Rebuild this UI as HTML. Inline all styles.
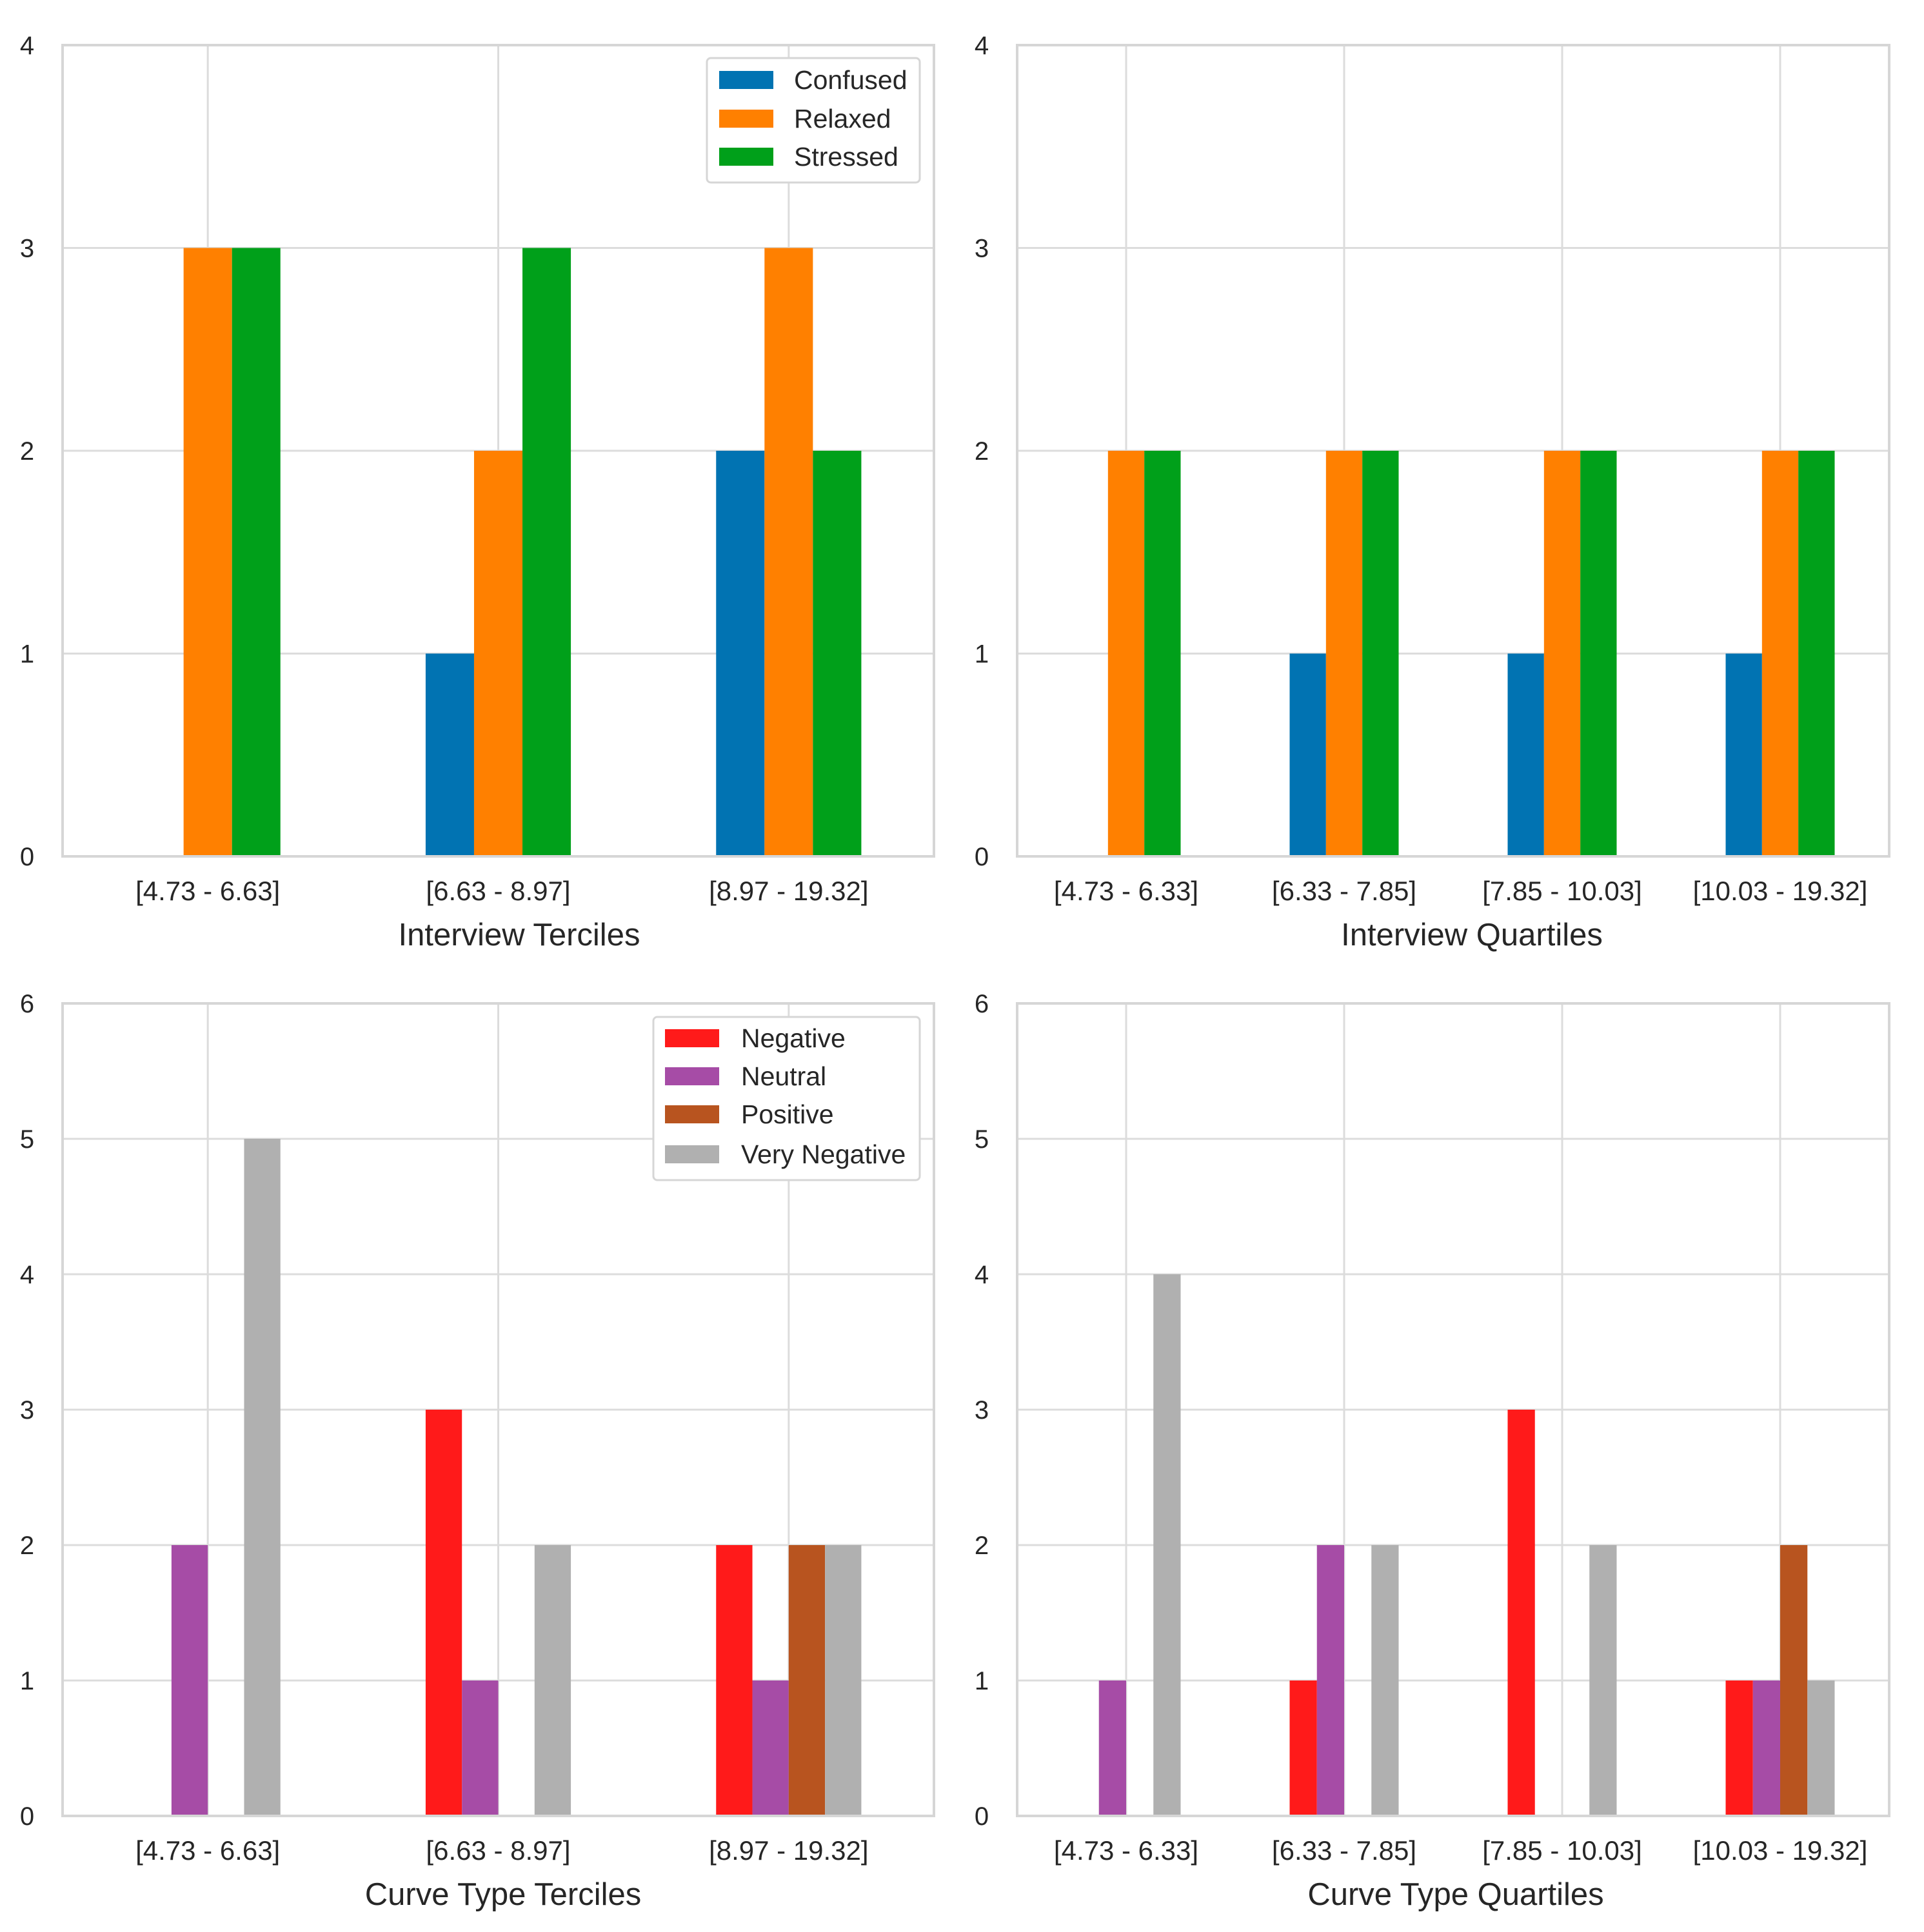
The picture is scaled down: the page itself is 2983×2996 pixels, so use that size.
<!DOCTYPE html>
<html><head><meta charset="utf-8"><style>
body{margin:0;background:#fff}
svg{display:block}
text{font-family:"Liberation Sans",sans-serif;fill:#262626}
</style></head><body>
<svg id="c" width="2983" height="2996" xmlns="http://www.w3.org/2000/svg"></svg>
<script>
const tercileCats = ["[4.73 - 6.63]","[6.63 - 8.97]","[8.97 - 19.32]"];
const quartileCats = ["[4.73 - 6.33]","[6.33 - 7.85]","[7.85 - 10.03]","[10.03 - 19.32]"];
const moodSeries = ["Confused","Relaxed","Stressed"];
const moodColors = ["#0173b2","#ff8000","#00a01a"];
const curveSeries = ["Negative","Neutral","Positive","Very Negative"];
const curveColors = ["#ff1a1a","#a64ca6","#b8541f","#b0b0b0"];
const interviewTercileValues = [[0,1,2],[3,2,3],[3,3,2]];
const interviewQuartileValues = [[0,1,1,1],[2,2,2,2],[2,2,2,2]];
const curveTercileValues = [[0,3,2],[2,1,1],[0,0,2],[5,2,2]];
const curveQuartileValues = [[0,1,3,1],[1,2,0,1],[0,0,0,2],[4,2,2,1]];
const yTicks4 = [0,1,2,3,4];
const yTicks6 = [0,1,2,3,4,5,6];

const svg = document.getElementById('c');
const NS = "http://www.w3.org/2000/svg";
function mk(tag, attrs, parent){
  const e = document.createElementNS(NS, tag);
  for (const k in attrs) e.setAttribute(k, attrs[k]);
  (parent||svg).appendChild(e);
  return e;
}
function panel(name, box, cats, series, colors, values, yTicks, xlabel, legend, labelY){
  const g = mk('g', {});
  
  
  const yMax = yTicks[yTicks.length-1];
  const sx = i => box.x0 + (i+0.5)*(box.x1-box.x0)/cats.length;
  const sy = v => box.y1 - v/yMax*(box.y1-box.y0);
  const step = (box.x1-box.x0)/cats.length;
  yTicks.forEach(t => {
    const l = mk('line', {x1:box.x0,x2:box.x1,y1:sy(t),y2:sy(t),stroke:'#dcdcdc','stroke-width':3}, g);
    
    
    const tx = mk('text', {x:42,y:sy(t)+14,'font-size':40,'text-anchor':'middle'}, g);
    tx.textContent = t;
    if (box.x0 > 1000) tx.setAttribute('x', box.x0-55);
    
    
  });
  cats.forEach((c,i) => {
    const l = mk('line', {x1:sx(i),x2:sx(i),y1:box.y0,y2:box.y1,stroke:'#dcdcdc','stroke-width':3}, g);
    
    
    const tx = mk('text', {x:sx(i),y:box.y1+68,'font-size':42,'text-anchor':'middle'}, g);
    tx.textContent = c;
    
    
  });
  const n = series.length;
  const bw = step*0.5/n;
  series.forEach((s,k) => {
    values[k].forEach((v,i) => {
      if (v <= 0) return;
      const x = sx(i) - step*0.25 + k*bw;
      const r = mk('rect', {x:x,y:sy(v),width:bw,height:sy(0)-sy(v),fill:colors[k]}, g);
      
      
    });
  });
  const fr = mk('rect', {x:box.x0,y:box.y0,width:box.x1-box.x0,height:box.y1-box.y0,fill:'none',stroke:'#d6d6d6','stroke-width':4}, g);
  
  
  const xl = mk('text', {x:labelY.x,y:box.y1+138,'font-size':49,'text-anchor':'middle'}, g);
  xl.textContent = xlabel;
  
  
  if (legend){
    const lg = mk('g', {}, g);
    
    
    mk('rect', {x:legend.x0,y:legend.y0,width:legend.x1-legend.x0,height:legend.y1-legend.y0,fill:'#fff',stroke:'#d6d6d6','stroke-width':3,rx:6}, lg);
    series.forEach((s,k) => {
      const y = legend.rows[k];
      const p = mk('rect', {x:legend.px,y:y-14,width:84,height:28,fill:colors[k]}, lg);
      
      
      const t = mk('text', {x:legend.tx,y:y+14,'font-size':41}, lg);
      t.textContent = s;
      
      
    });
  }
}
panel('interview-terciles-chart', {x0:97,x1:1448,y0:70,y1:1328}, tercileCats, moodSeries, moodColors, interviewTercileValues, yTicks4, 'Interview Terciles',
  {x0:1096,x1:1426,y0:90,y1:283,px:1115,tx:1231,rows:[124,184,243]}, {x:805});
panel('interview-quartiles-chart', {x0:1577,x1:2929,y0:70,y1:1328}, quartileCats, moodSeries, moodColors, interviewQuartileValues, yTicks4, 'Interview Quartiles', null, {x:2282});
panel('curve-type-terciles-chart', {x0:97,x1:1448,y0:1556,y1:2816}, tercileCats, curveSeries, curveColors, curveTercileValues, yTicks6, 'Curve Type Terciles',
  {x0:1013,x1:1426,y0:1577,y1:1830,px:1031,tx:1149,rows:[1610,1669,1728,1790]}, {x:780});
panel('curve-type-quartiles-chart', {x0:1577,x1:2929,y0:1556,y1:2816}, quartileCats, curveSeries, curveColors, curveQuartileValues, yTicks6, 'Curve Type Quartiles', null, {x:2257});
</script>
</body></html>
